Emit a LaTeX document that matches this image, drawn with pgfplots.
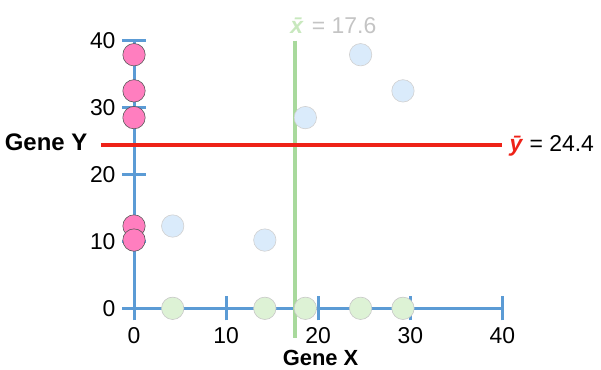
\documentclass[border=0pt]{standalone}
\usepackage{fontspec}
\setmainfont{Liberation Sans}
\usepackage{pgfplots}
\pgfplotsset{compat=1.18}
\definecolor{axisblue}{HTML}{5B9BD5}
\definecolor{pinkm}{HTML}{FF7EBF}
\definecolor{bluem}{HTML}{DAEBFB}
\definecolor{greenm}{HTML}{DDF2D5}
\definecolor{gline}{HTML}{A8D99C}
\definecolor{rline}{HTML}{EE2218}
\definecolor{lgray}{HTML}{C4C4C4}
\begin{document}
\begin{tikzpicture}
\begin{axis}[
  x=9.21bp, y=6.69bp,
  xmin=0, xmax=40, ymin=0, ymax=40,
  axis lines=middle,
  axis line style={axisblue, line width=3bp, -},
  every tick/.style={axisblue, line width=3bp},
  major tick length=24bp,
  tick align=center,
  hide obscured x ticks=false, hide obscured y ticks=false,
  xtick={0,10,20,30,40}, ytick={0,10,20,30,40},
  tick label style={font=\fontsize{23}{23}\selectfont, text=black},
  /pgf/number format/assume math mode=true,
  xticklabel style={yshift=-4bp},
  yticklabel style={xshift=-3bp},
  clip=false,
]
\addplot[gline, line width=3.5bp] coordinates {(17.5,40) (17.5,-4.5)};
\addplot[only marks, mark=*, mark size=11.2bp, mark options={fill=bluem, draw=black!18, line width=0.6bp}]
  coordinates {(4.2,12.3) (14.2,10.2) (18.6,28.5) (24.6,37.9) (29.2,32.5)};
\addplot[only marks, mark=*, mark size=11.2bp, mark options={fill=greenm, draw=black!22, line width=0.6bp}]
  coordinates {(4.2,0) (14.2,0) (18.6,0) (24.6,0) (29.2,0)};
\addplot[only marks, mark=*, mark size=11.2bp, mark options={fill=pinkm, draw=black!65, line width=0.6bp}]
  coordinates {(0,12.3) (0,10.2) (0,28.5) (0,37.9) (0,32.5)};
\addplot[rline, line width=3.8bp] coordinates {(-3.6,24.45) (39.9,24.45)};
\node[font=\fontsize{24}{24}\selectfont\bfseries] at (axis cs:-9.55,24.75) {Gene Y};
\node[inner sep=0pt, font=\fontsize{22}{22}\selectfont\bfseries] at (axis cs:20.25,-7.35) {Gene X};
\node[anchor=west, inner sep=0pt, font=\fontsize{23}{23}\selectfont, text=lgray] at (axis cs:16.95,42.2) {{\color{greenm!60!gline}\textbf{\textit{x^^^^0304}}}\hspace{-3bp} = 17.6};
\node[anchor=west, inner sep=0pt, font=\fontsize{23}{23}\selectfont] at (axis cs:40.75,24.3) {{\color{rline}\textbf{\textit{y^^^^0304}}} = 24.4};
\coordinate (bl) at (axis cs:-14.55,-9.22);
\coordinate (tr) at (axis cs:50.7,46.08);
\end{axis}
\pgfresetboundingbox
\useasboundingbox (bl) rectangle (tr);
\end{tikzpicture}
\end{document}
